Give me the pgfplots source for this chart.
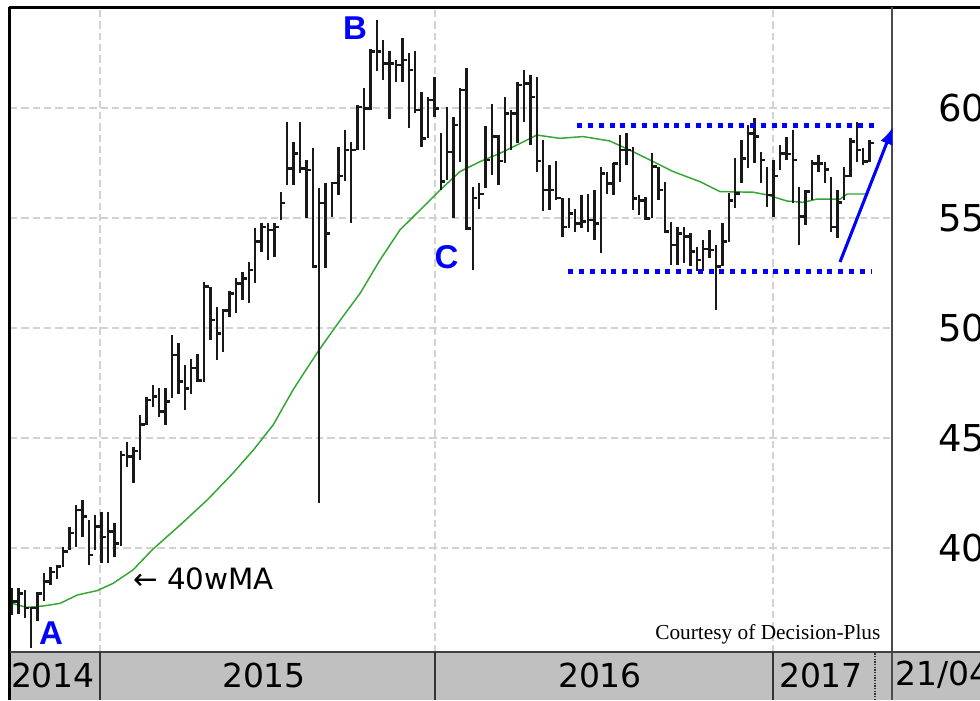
\documentclass[border=0pt]{standalone}
\usepackage{fontspec}
\setmainfont{DejaVu Sans}
\newfontfamily\lsans{Liberation Sans}
\newfontfamily\tnr{Liberation Serif}
\usepackage{pgfplots}
\pgfplotsset{compat=1.18}
\usepackage{pgfplotstable}
\usetikzlibrary{arrows.meta}
\definecolor{magreen}{RGB}{50,165,50}
\definecolor{gbar}{RGB}{192,192,192}
\definecolor{gridc}{RGB}{210,210,210}
\definecolor{barc}{RGB}{25,25,25}
\pgfdeclareplotmark{rtick}{\pgfpathmoveto{\pgfqpoint{-0.8pt}{0pt}}\pgfpathlineto{\pgfqpoint{3.4pt}{0pt}}\pgfusepathqstroke}

\pgfplotstableread{
x h l c
0 38.17 36.95 37.56
1 38.17 37.00 37.94
2 38.10 36.80 37.26
3 37.33 35.44 37.26
4 38.00 36.70 37.94
5 38.85 37.60 38.47
6 39.15 38.30 38.90
7 39.20 38.60 39.15
8 40.06 39.15 39.83
9 40.97 39.90 40.67
10 41.95 40.06 41.73
11 42.18 40.50 41.42
12 41.27 39.23 39.68
13 41.50 39.90 40.97
14 41.65 39.30 40.50
15 41.65 39.30 40.74
16 41.12 39.60 40.20
17 44.40 40.10 44.23
18 44.83 43.70 44.15
19 44.60 42.94 44.40
20 46.05 44.00 45.60
21 46.88 45.60 46.73
22 47.40 46.40 46.88
23 47.26 45.97 46.20
24 47.26 45.60 46.65
25 49.68 46.80 48.77
26 49.30 47.00 47.56
27 48.32 46.27 47.26
28 48.60 47.00 48.17
29 48.80 47.55 47.60
30 52.10 47.56 51.88
31 51.88 49.45 50.36
32 50.97 48.55 49.76
33 50.80 48.90 50.80
34 51.70 50.50 51.57
35 52.26 50.66 52.03
36 52.56 51.27 52.26
37 53.00 51.12 52.64
38 54.53 52.03 53.92
39 54.76 53.47 54.60
40 54.76 53.09 54.45
41 54.76 53.24 54.60
42 56.20 54.90 55.67
43 59.38 56.50 57.26
44 58.47 56.50 57.94
45 59.38 57.03 57.26
46 57.63 54.98 57.18
47 58.17 52.71 52.80
48 56.35 42.03 55.67
49 56.57 52.71 54.30
50 56.65 55.06 56.58
51 58.24 56.04 56.90
52 59.00 56.70 58.10
53 58.47 54.75 58.10
54 60.14 58.10 60.05
55 60.90 58.10 59.98
56 62.70 59.90 62.56
57 64.00 61.70 62.56
58 63.09 61.27 62.03
59 62.60 59.50 62.03
60 62.18 61.20 61.95
61 63.20 61.20 62.18
62 62.48 59.07 61.72
63 62.60 59.75 59.90
64 60.74 58.24 58.62
65 60.51 58.62 60.36
66 61.42 59.60 59.98
67 58.84 56.27 56.65
68 60.06 56.72 58.00
69 59.60 54.98 59.22
70 60.90 57.56 60.81
71 61.80 54.45 54.53
72 56.42 52.63 55.90
73 56.60 55.40 56.10
74 59.20 56.35 57.63
75 60.20 56.95 58.70
76 58.77 56.50 57.60
77 60.52 57.48 59.76
78 59.90 58.09 59.76
79 61.20 58.40 61.05
80 61.73 59.38 61.12
81 61.50 58.30 60.50
82 61.40 57.10 57.60
83 58.54 55.30 56.27
84 57.40 55.36 56.27
85 57.60 55.80 55.90
86 55.90 54.15 54.60
87 55.90 54.53 55.20
88 55.40 54.38 54.76
89 56.04 54.53 54.83
90 56.10 54.38 54.90
91 56.27 54.00 54.76
92 57.33 53.39 57.03
93 57.10 56.10 56.57
94 57.48 56.04 57.48
95 58.77 56.65 58.09
96 58.85 57.40 58.09
97 58.24 55.36 55.89
98 56.04 55.13 55.80
99 55.97 54.90 54.98
100 57.94 54.98 57.33
101 57.33 55.80 56.27
102 56.65 54.30 54.38
103 54.83 52.86 53.77
104 54.60 52.86 54.30
105 54.60 52.94 54.15
106 54.30 52.80 53.47
107 53.70 52.60 53.09
108 54.00 52.60 53.60
109 54.45 53.16 53.54
110 53.77 50.80 52.80
111 54.75 52.80 53.92
112 56.12 53.92 55.80
113 57.71 55.44 56.12
114 58.54 56.57 57.71
115 59.23 57.26 58.85
116 59.53 57.48 58.70
117 58.00 56.57 57.63
118 57.33 55.50 56.04
119 57.63 55.06 56.90
120 58.30 57.18 57.94
121 58.70 57.63 57.90
122 59.00 55.66 57.63
123 56.42 53.77 55.06
124 56.27 54.68 56.20
125 57.63 55.80 57.48
126 57.86 57.10 57.48
127 57.56 56.57 57.20
128 56.88 54.38 54.60
129 56.27 54.07 55.70
130 57.33 55.80 56.90
131 58.62 56.88 58.47
132 59.38 57.56 58.09
133 58.17 57.40 57.56
134 58.54 57.56 58.40
}\bars

\pgfplotstableread{
x v
0 37.48
2.3 37.30
4.8 37.36
7.5 37.48
10.2 37.86
13.3 38.06
15.8 38.39
18.9 39.00
22.0 39.94
26.3 41.05
30.5 42.18
34.5 43.39
37.7 44.45
40.8 45.59
43.9 47.18
46.1 48.17
48.1 49.05
51.3 50.36
54.4 51.58
57.5 53.09
60.6 54.45
63.75 55.36
66.9 56.27
70.0 57.11
73.1 57.56
76.25 57.94
79.4 58.39
82.0 58.77
85.6 58.62
89.2 58.70
93.4 58.50
97.0 58.02
100.2 57.56
103.3 57.11
107.5 56.65
110.6 56.20
115.8 56.17
118.0 56.05
121.1 55.77
123.6 55.71
125.8 55.86
129.4 55.86
130.5 56.09
133.6 56.09
}\ma

\begin{document}
\begin{tikzpicture}[x=0.75pt,y=0.75pt]
\useasboundingbox (0,0) rectangle (980,700);
\clip (0,0) rectangle (980,700);
\fill[gbar] (10,0) rectangle (980,48);
\begin{axis}[at={(7.5pt,36pt)}, anchor=south west, scale only axis,
  width=661.5pt, height=483pt,
  xmin=-0.3125, xmax=137.5, ymin=35.27, ymax=64.545,
  axis line style={draw=none}, tick style={draw=none},
  xtick={13.75,66.09,118.9}, ytick={40,45,50,55,60},
  xticklabels={}, yticklabels={},
  grid=major,
  major grid style={color=gridc, line width=1.1pt, dash pattern=on 5.5pt off 3pt},
]
\addplot[magreen, line width=1.1pt, no marks] table[x=x,y=v]{\ma};
\addplot[only marks, mark=rtick, mark options={line width=1.9pt, draw=barc},
  error bars/.cd, y dir=both, y explicit, error mark=none,
  error bar style={line width=1.9pt, draw=barc}]
  table[x=x, y=c, y error plus expr=\thisrow{h}-\thisrow{c}, y error minus expr=\thisrow{c}-\thisrow{l}]{\bars};
\draw[blue, line width=3.4pt, dash pattern=on 3.75pt off 4.35pt] (axis cs:88.3,59.2) -- (axis cs:135.3,59.2);
\draw[blue, line width=3.4pt, dash pattern=on 3.75pt off 4.35pt] (axis cs:86.9,52.56) -- (axis cs:134.4,52.56);
\end{axis}
% frame
\draw[black, line width=1.9pt] (9.5,0) -- (9.5,692.5);
\draw[black, line width=1.9pt] (8.5,692.5) -- (980,692.5);
\draw[black!70, line width=1.5pt] (892,0) -- (892,692.5);
\draw[black!75, line width=1.5pt] (10,48) -- (980,48);
\draw[black!80, line width=1.2pt] (100,0) -- (100,48);
\draw[black!80, line width=1.2pt] (435,0) -- (435,48);
\draw[black!80, line width=1.2pt] (773,0) -- (773,48);
\draw[black!80, line width=0.8pt, dash pattern=on 1pt off 1pt] (875,0) -- (875,48);
% year labels
\begin{scope}[every node/.style={inner sep=0, font=\fontsize{24.75pt}{26pt}\selectfont}]
\node at (53,25) {2014};
\node at (264,25) {2015};
\node at (600,25) {2016};
\node at (821,25) {2017};
\node[anchor=west] at (895,25) {21/04/2017};
\end{scope}
% right labels
\begin{scope}[every node/.style={inner sep=0, anchor=west, font=\fontsize{27.75pt}{30pt}\selectfont}]
\node at (938,592) {60};
\node at (938,482) {55};
\node at (938,372) {50};
\node at (938,262) {45};
\node at (938,152) {40};
\end{scope}
% annotations
\begin{scope}[every node/.style={inner sep=0, text=blue, font=\lsans\bfseries\fontsize{24.75pt}{26pt}\selectfont}]
\node at (51,67) {A};
\node at (355,672) {B};
\node at (446.5,442.5) {C};
\end{scope}
\node[anchor=west, inner sep=0, font=\fontsize{22pt}{24pt}\selectfont] at (133,121) {← 40wMA};
\node[anchor=base west, inner sep=0, font=\tnr\fontsize{16pt}{18pt}\selectfont] at (655,60.7) {Courtesy of Decision-Plus};
\draw[blue, line width=2.3pt, -{Latex[length=13pt,width=10pt]}] (840,438) -- (893,573);
\end{tikzpicture}
\end{document}
